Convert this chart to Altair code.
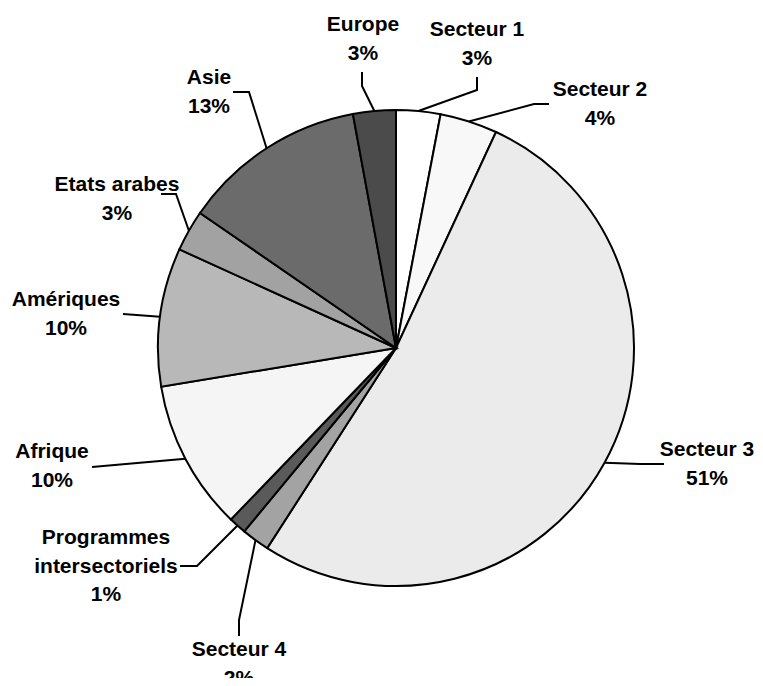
import math
import altair as alt
import pandas as pd

# ---- data ----
categories = ["Secteur 1", "Secteur 2", "Secteur 3", "Secteur 4",
              "Programmes intersectoriels", "Afrique", "Amériques",
              "Etats arabes", "Asie", "Europe"]
values = [3.0, 3.9, 52.2, 1.9, 1.2, 10.2, 9.4, 2.8, 12.5, 2.9]
pct_labels = ["3%", "4%", "51%", "2%", "1%", "10%", "10%", "3%", "13%", "3%"]
name_lines = ["Secteur 1", "Secteur 2", "Secteur 3", "Secteur 4",
              "Programmes\nintersectoriels", "Afrique", "Amériques",
              "Etats arabes", "Asie", "Europe"]
colors = ["#ffffff", "#f8f8f8", "#ebebeb", "#a3a3a3", "#5a5a5a",
          "#f5f5f5", "#b8b8b8", "#a2a2a2", "#6b6b6b", "#4b4b4b"]

# ---- layout (pixel offsets from pie centre) ----
W, H = 718, 660
PAD = {"left": 29, "top": 10, "right": 0, "bottom": 0}
R = 238
cx, cy = W / 2, H / 2
# position of the first text line (centre x, middle y)
text_pos = [(81, -318), (204, -258), (311, 102), (-157, 302), (-290, 190),
            (-344, 104), (-330, -48), (-279, -163), (-187, -270), (-33, -323)]
elbow_pos = [(81, -258), (138, -244), (244, 116), (-157, 272), (-199, 218),
             (-304, 119), (-273, -34), (-220, -154), (-147, -256), (-34, -262)]
end_pos = [(81, -271), (153, -244), (268, 116), (-157, 288), (-216, 218),
           (-304, 119), (-273, -34), (-235, -154), (-163, -256), (-34, -276)]

pie_df = pd.DataFrame({"name": categories, "value": values,
                       "idx": list(range(len(categories)))})

total = sum(values)
rows_line = []
rows_text = []
cum = 0.0
for i, (c, v) in enumerate(zip(categories, values)):
    mid = (cum + v / 2) / total * 2 * math.pi
    cum += v
    ex = cx + R * math.sin(mid)
    ey = cy - R * math.cos(mid)
    pts = [(ex, ey),
           (cx + elbow_pos[i][0], cy + elbow_pos[i][1]),
           (cx + end_pos[i][0], cy + end_pos[i][1])]
    for s, (px, py) in enumerate(pts):
        rows_line.append({"name": c, "step": s, "x": px, "y": py})
    rows_text.append({"name": c, "label": name_lines[i] + "\n" + pct_labels[i],
                      "x": cx + text_pos[i][0], "y": cy + text_pos[i][1]})

line_df = pd.DataFrame(rows_line)
text_df = pd.DataFrame(rows_text)

lines = alt.Chart(line_df).mark_line(color="black", strokeWidth=2).encode(
    x=alt.X("x:Q", scale=None, axis=None),
    y=alt.Y("y:Q", scale=None, axis=None),
    detail="name:N",
    order="step:Q",
)

pie = alt.Chart(pie_df).mark_arc(radius=R, stroke="black", strokeWidth=2).encode(
    theta=alt.Theta("value:Q", stack=True),
    color=alt.Color("name:N", scale=alt.Scale(domain=categories, range=colors),
                    legend=None),
    order=alt.Order("idx:Q"),
)

texts = alt.Chart(text_df).mark_text(
    font="Liberation Sans", fontSize=21, fontWeight="bold", lineBreak="\n",
    lineHeight=28.5, align="center", baseline="middle", color="black",
).encode(
    x=alt.X("x:Q", scale=None, axis=None),
    y=alt.Y("y:Q", scale=None, axis=None),
    text="label:N",
)

chart = alt.layer(lines, pie, texts).properties(
    width=W, height=H,
    padding=PAD,
    autosize=alt.AutoSizeParams(type="none"),
).configure_view(stroke=None)

chart.save("out.html", embed_options={"renderer": "svg", "actions": False})
